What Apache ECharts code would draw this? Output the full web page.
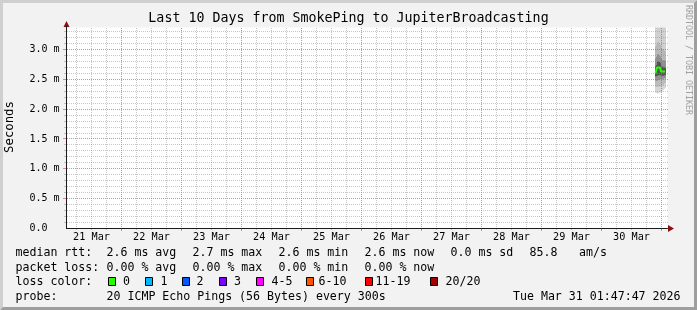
<!DOCTYPE html>
<html><head><meta charset="utf-8">
<script src="https://cdn.jsdelivr.net/npm/echarts@6/dist/echarts.min.js"></script>
<style>html,body{margin:0;padding:0;background:#f2f2f2}#c{width:697px;height:310px}</style>
</head><body><div id="c"></div>
<script>
// ---------------- data ----------------
const titleText = 'Last 10 Days from SmokePing to JupiterBroadcasting';
const yAxisName = 'Seconds';
const watermark = 'RRDTOOL / TOBI OETIKER';
// x values are hours since 21 Mar 2026 00:00
const xStartHour = 2.0;      // 21 Mar 02:00
const xEndHour = 242.4;      // 31 Mar ~02:24
const dayLabels = ['21 Mar','22 Mar','23 Mar','24 Mar','25 Mar','26 Mar','27 Mar','28 Mar','29 Mar','30 Mar'];
// y values in ms ("m" = milli-seconds)
const yTickLabels = ['0.0  ','0.5 m','1.0 m','1.5 m','2.0 m','2.5 m','3.0 m'];
// samples (one per 24 min) on the evening of 30 Mar
const sampleHours = [237.6, 238.0, 238.4, 238.8, 239.2, 239.6, 240.0, 240.4, 240.8, 241.2, 241.6];
const medianRtt   = [2.60, 2.60, 2.70, 2.70, 2.70, 2.70, 2.63, 2.63, 2.63, 2.63, 2.63];
// smoke (sorted ping distribution) boundaries, ms
const smokeLow  = [2.28, 2.27, 2.26, 2.27, 2.28, 2.28, 2.29, 2.30, 2.32, 2.34, 2.36];
const smokeQ1   = [2.38, 2.37, 2.37, 2.38, 2.38, 2.39, 2.40, 2.40, 2.41, 2.43, 2.44];
const smokeQ2   = [2.48, 2.47, 2.48, 2.49, 2.49, 2.50, 2.50, 2.50, 2.51, 2.52, 2.52];
const smokeQ3   = [2.55, 2.55, 2.56, 2.57, 2.57, 2.57, 2.56, 2.56, 2.56, 2.57, 2.57];
const smokeQ4   = [2.72, 2.74, 2.80, 2.80, 2.79, 2.78, 2.72, 2.71, 2.71, 2.70, 2.70];
const smokeQ5   = [2.85, 2.88, 2.92, 2.92, 2.90, 2.88, 2.84, 2.82, 2.82, 2.82, 2.81];
const smokeQ6   = [3.05, 3.08, 3.12, 3.12, 3.10, 3.08, 3.03, 3.00, 3.00, 2.98, 2.98];
const smokeHigh = [3.45, 3.45, 3.45, 3.45, 3.45, 3.45, 3.45, 3.45, 3.45, 3.45, 3.45];
// legend statistics
const rttNames = ['avg','max','min','now'];
const rttValues = [2.6, 2.7, 2.6, 2.6];
const rttSd = 0.0;
const amPerS = 85.8;
const lossValues = [0.00, 0.00, 0.00, 0.00];
const lossLabels = ['0','1','2','3','4-5','6-10','11-19','20/20'];
const lossColors = ['#26ff00','#00b8ff','#0059ff','#7e00ff','#ff00ff','#ff5500','#ff0000','#a10000'];
const probeText = '20 ICMP Echo Pings (56 Bytes) every 300s';
const stampText = 'Tue Mar 31 01:47:47 2026';

// ---------------- layout / style ----------------
const MONO = '"DejaVu Sans Mono", monospace';
const PXH = 2.5;          // px per hour
const PXM = 59.667;       // px per ms
const X0 = 66.5, Y0 = 228.5, TOP = 27.5;
const GRID_C = 'rgba(143,143,143,0.5)';
const MGRID_C = 'rgba(222,70,70,0.65)';
const AXIS_C = '#1a1a1a';
const ARROW_C = '#8a1010';
const xpx = h => X0 + (h - xStartHour) * PXH;
const ypx = v => Y0 - v * PXM;
const hidden = {show: false};

// grid line positions: [kind, value]; kind 0/1 = vertical minor/major (hours), 2/3 = horizontal minor/major (ms)
const gridLines = [];
for (let h = 6; h <= 240; h += 6) gridLines.push([h % 24 === 0 ? 1 : 0, h]);
for (let k = 1; k <= 33; k++) gridLines.push([k % 5 === 0 ? 3 : 2, k / 10]);

const grids = [], xAxes = [], yAxes = [];
// 0: main plot
grids.push({left: X0, top: TOP, width: (xEndHour - xStartHour) * PXH, height: Y0 - TOP, show: true, backgroundColor: '#ffffff', borderWidth: 0});
xAxes.push({gridIndex: 0, type: 'value', min: xStartHour, max: xEndHour, z: 8,
  axisLine: {show: true, lineStyle: {color: AXIS_C, width: 1}}, axisTick: hidden, axisLabel: hidden, splitLine: hidden});
yAxes.push({gridIndex: 0, type: 'value', min: 0, max: (Y0 - TOP) / PXM, z: 8,
  axisLine: {show: true, lineStyle: {color: AXIS_C, width: 1}}, axisTick: hidden, axisLabel: hidden, splitLine: hidden});
// 1: day labels at noon
grids.push({left: xpx(12), top: TOP, width: 216 * PXH, height: Y0 - TOP});
xAxes.push({gridIndex: 1, type: 'value', min: 0, max: 216, interval: 24,
  axisLine: hidden, axisTick: hidden, splitLine: hidden,
  axisLabel: {show: true, margin: 4, showMinLabel: true, showMaxLabel: true, fontFamily: MONO, fontSize: 10.2, color: '#000',
    formatter: v => dayLabels[Math.round(v / 24)] || ''}});
yAxes.push({gridIndex: 1, type: 'value', min: 0, max: 1, show: false});
// 2: y labels every 0.5 ms (units of 0.1 ms)
grids.push({left: X0, top: ypx(3.0), width: 601, height: 3.0 * PXM});
xAxes.push({gridIndex: 2, type: 'value', min: 0, max: 1, show: false});
yAxes.push({gridIndex: 2, type: 'value', min: 0, max: 30, interval: 5,
  axisLine: hidden, axisTick: hidden, splitLine: hidden,
  axisLabel: {show: true, margin: 7, fontFamily: MONO, fontSize: 10, color: '#000', showMinLabel: true, showMaxLabel: true,
    formatter: v => yTickLabels[Math.round(v / 5)] || ''}});

// smoke: overlapping bars painted from the outermost band inwards
const bounds = [smokeHigh, smokeQ6, smokeQ5, smokeQ4, smokeQ3, smokeQ2, smokeQ1, smokeLow];
const bandColors = ['#d0d0d0', '#b8b8b8', '#909090', '#545454', '#939393', '#bcbcbc', '#d6d6d6', '#ffffff'];
const series = bounds.map((arr, b) => ({
  type: 'bar', xAxisIndex: 0, yAxisIndex: 0, barWidth: 1, barGap: '-100%', silent: true, z: 2,
  itemStyle: {color: bandColors[b]},
  data: sampleHours.map((h, i) => [h, arr[i]])
}));
// grid lines + tick marks (drawn over the smoke like rrdtool does); dashes start on whole pixels
series.push({
  type: 'custom', xAxisIndex: 0, yAxisIndex: 0, z: 5, silent: true, clip: false,
  encode: {x: 1, y: 1},
  data: gridLines,
  renderItem: (params, api) => {
    const kind = api.value(0), v = api.value(1);
    const cs = params.coordSys;
    const major = kind === 1 || kind === 3;
    const col = major ? MGRID_C : GRID_C;
    const tl = major ? 3 : 2;
    const top = Math.ceil(cs.y), bot = Math.floor(cs.y + cs.height);
    const left = Math.ceil(cs.x), right = Math.floor(cs.x + cs.width) + 1;
    if (kind < 2) {
      const x = Math.round(api.coord([v, 0])[0] - 0.5) + 0.5;
      return {type: 'group', children: [
        {type: 'line', shape: {x1: x, y1: top, x2: x, y2: bot}, style: {stroke: col, lineWidth: 1, lineDash: [1, 1]}},
        {type: 'line', shape: {x1: x, y1: bot, x2: x, y2: bot + tl}, style: {stroke: col, lineWidth: 1}}
      ]};
    }
    const y = Math.round(api.coord([xStartHour, v])[1] - 0.5) + 0.5;
    return {type: 'group', children: [
      {type: 'line', shape: {x1: left, y1: y, x2: right, y2: y}, style: {stroke: col, lineWidth: 1, lineDash: [1, 1]}},
      {type: 'line', shape: {x1: left - 1 - tl, y1: y, x2: left - 1, y2: y}, style: {stroke: col, lineWidth: 1}}
    ]};
  }
});
series.push({type: 'line', name: 'median', xAxisIndex: 0, yAxisIndex: 0, z: 9, step: 'middle',
  symbol: 'none', lineStyle: {color: lossColors[0], width: 2},
  data: sampleHours.map((h, i) => [h, medianRtt[i]])});

// graphics
const W = 697, H = 310;
const g = [];
g.push({type: 'polygon', silent: true, shape: {points: [[0,0],[W,0],[W-3,3],[3,3],[3,H-3],[0,H]]}, style: {fill: '#cfcfcf'}});
g.push({type: 'polygon', silent: true, shape: {points: [[W,0],[W,H],[0,H],[3,H-3],[W-3,H-3],[W-3,3]]}, style: {fill: '#9e9e9e'}});
g.push({type: 'text', x: 348.5, y: 19, silent: true, style: {text: titleText, font: '13.3px ' + MONO, fill: '#000', align: 'center', verticalAlign: 'middle'}});
g.push({type: 'text', x: 10, y: 127, rotation: Math.PI / 2, silent: true, style: {text: yAxisName, font: '12.3px ' + MONO, fill: '#000', align: 'center', verticalAlign: 'middle'}});
g.push({type: 'text', x: 688, y: 60, rotation: -Math.PI / 2, silent: true, style: {text: watermark, font: '8.3px ' + MONO, fill: '#a0a0a0', align: 'center', verticalAlign: 'middle'}});
// axis arrows
g.push({type: 'polygon', silent: true, z: 10, shape: {points: [[63.5,27],[69.5,27],[66.5,21]]}, style: {fill: ARROW_C}});
g.push({type: 'polygon', silent: true, z: 10, shape: {points: [[668,225],[668,232],[674,228.5]]}, style: {fill: ARROW_C}});
g.push({type: 'line', silent: true, z: 10, shape: {x1: 66.5, y1: 26, x2: 66.5, y2: 28}, style: {stroke: AXIS_C, lineWidth: 1}});

// legend
const LF = '11.6px ' + MONO;
const txt = (s, x, y) => g.push({type: 'text', x: x, y: y, silent: true, style: {text: s, font: LF, fill: '#000', verticalAlign: 'middle'}});
const rows = [253, 267.5, 282, 296.5];
const colX = [106.5, 192.5, 278.5, 364.5, 450.5];
txt('median rtt:', 15.5, rows[0]);
rttValues.forEach((v, i) => txt(v.toFixed(1) + ' ms ' + rttNames[i], colX[i], rows[0]));
txt(rttSd.toFixed(1) + ' ms sd', colX[4], rows[0]);
txt(amPerS.toFixed(1), 529.5, rows[0]);
txt('am/s', 579, rows[0]);
txt('packet loss:', 15.5, rows[1]);
lossValues.forEach((v, i) => txt(v.toFixed(2) + ' % ' + rttNames[i], colX[i], rows[1]));
txt('loss color:', 15.5, rows[2]);
const boxX = [108.5, 145.5, 182.5, 219.5, 256.5, 306.5, 365.5, 430.5];
const boxLabelX = [123, 160.5, 196.5, 234, 271.5, 318.5, 375.5, 445.5];
lossLabels.forEach((l, i) => {
  g.push({type: 'rect', silent: true, shape: {x: boxX[i], y: 277.5, width: 7, height: 8}, style: {fill: lossColors[i], stroke: '#000', lineWidth: 1}});
  txt(l, boxLabelX[i], rows[2]);
});
txt('probe:', 15.5, rows[3]);
txt(probeText, colX[0], rows[3]);
g.push({type: 'text', x: 680.5, y: rows[3], silent: true, style: {text: stampText, font: LF, fill: '#000', align: 'right', verticalAlign: 'middle'}});

const chart = echarts.init(document.getElementById('c'), null, {renderer: 'canvas'});
chart.setOption({
  animation: false,
  backgroundColor: '#f2f2f2',
  grid: grids,
  xAxis: xAxes,
  yAxis: yAxes,
  series: series,
  graphic: g
});
</script></body></html>
